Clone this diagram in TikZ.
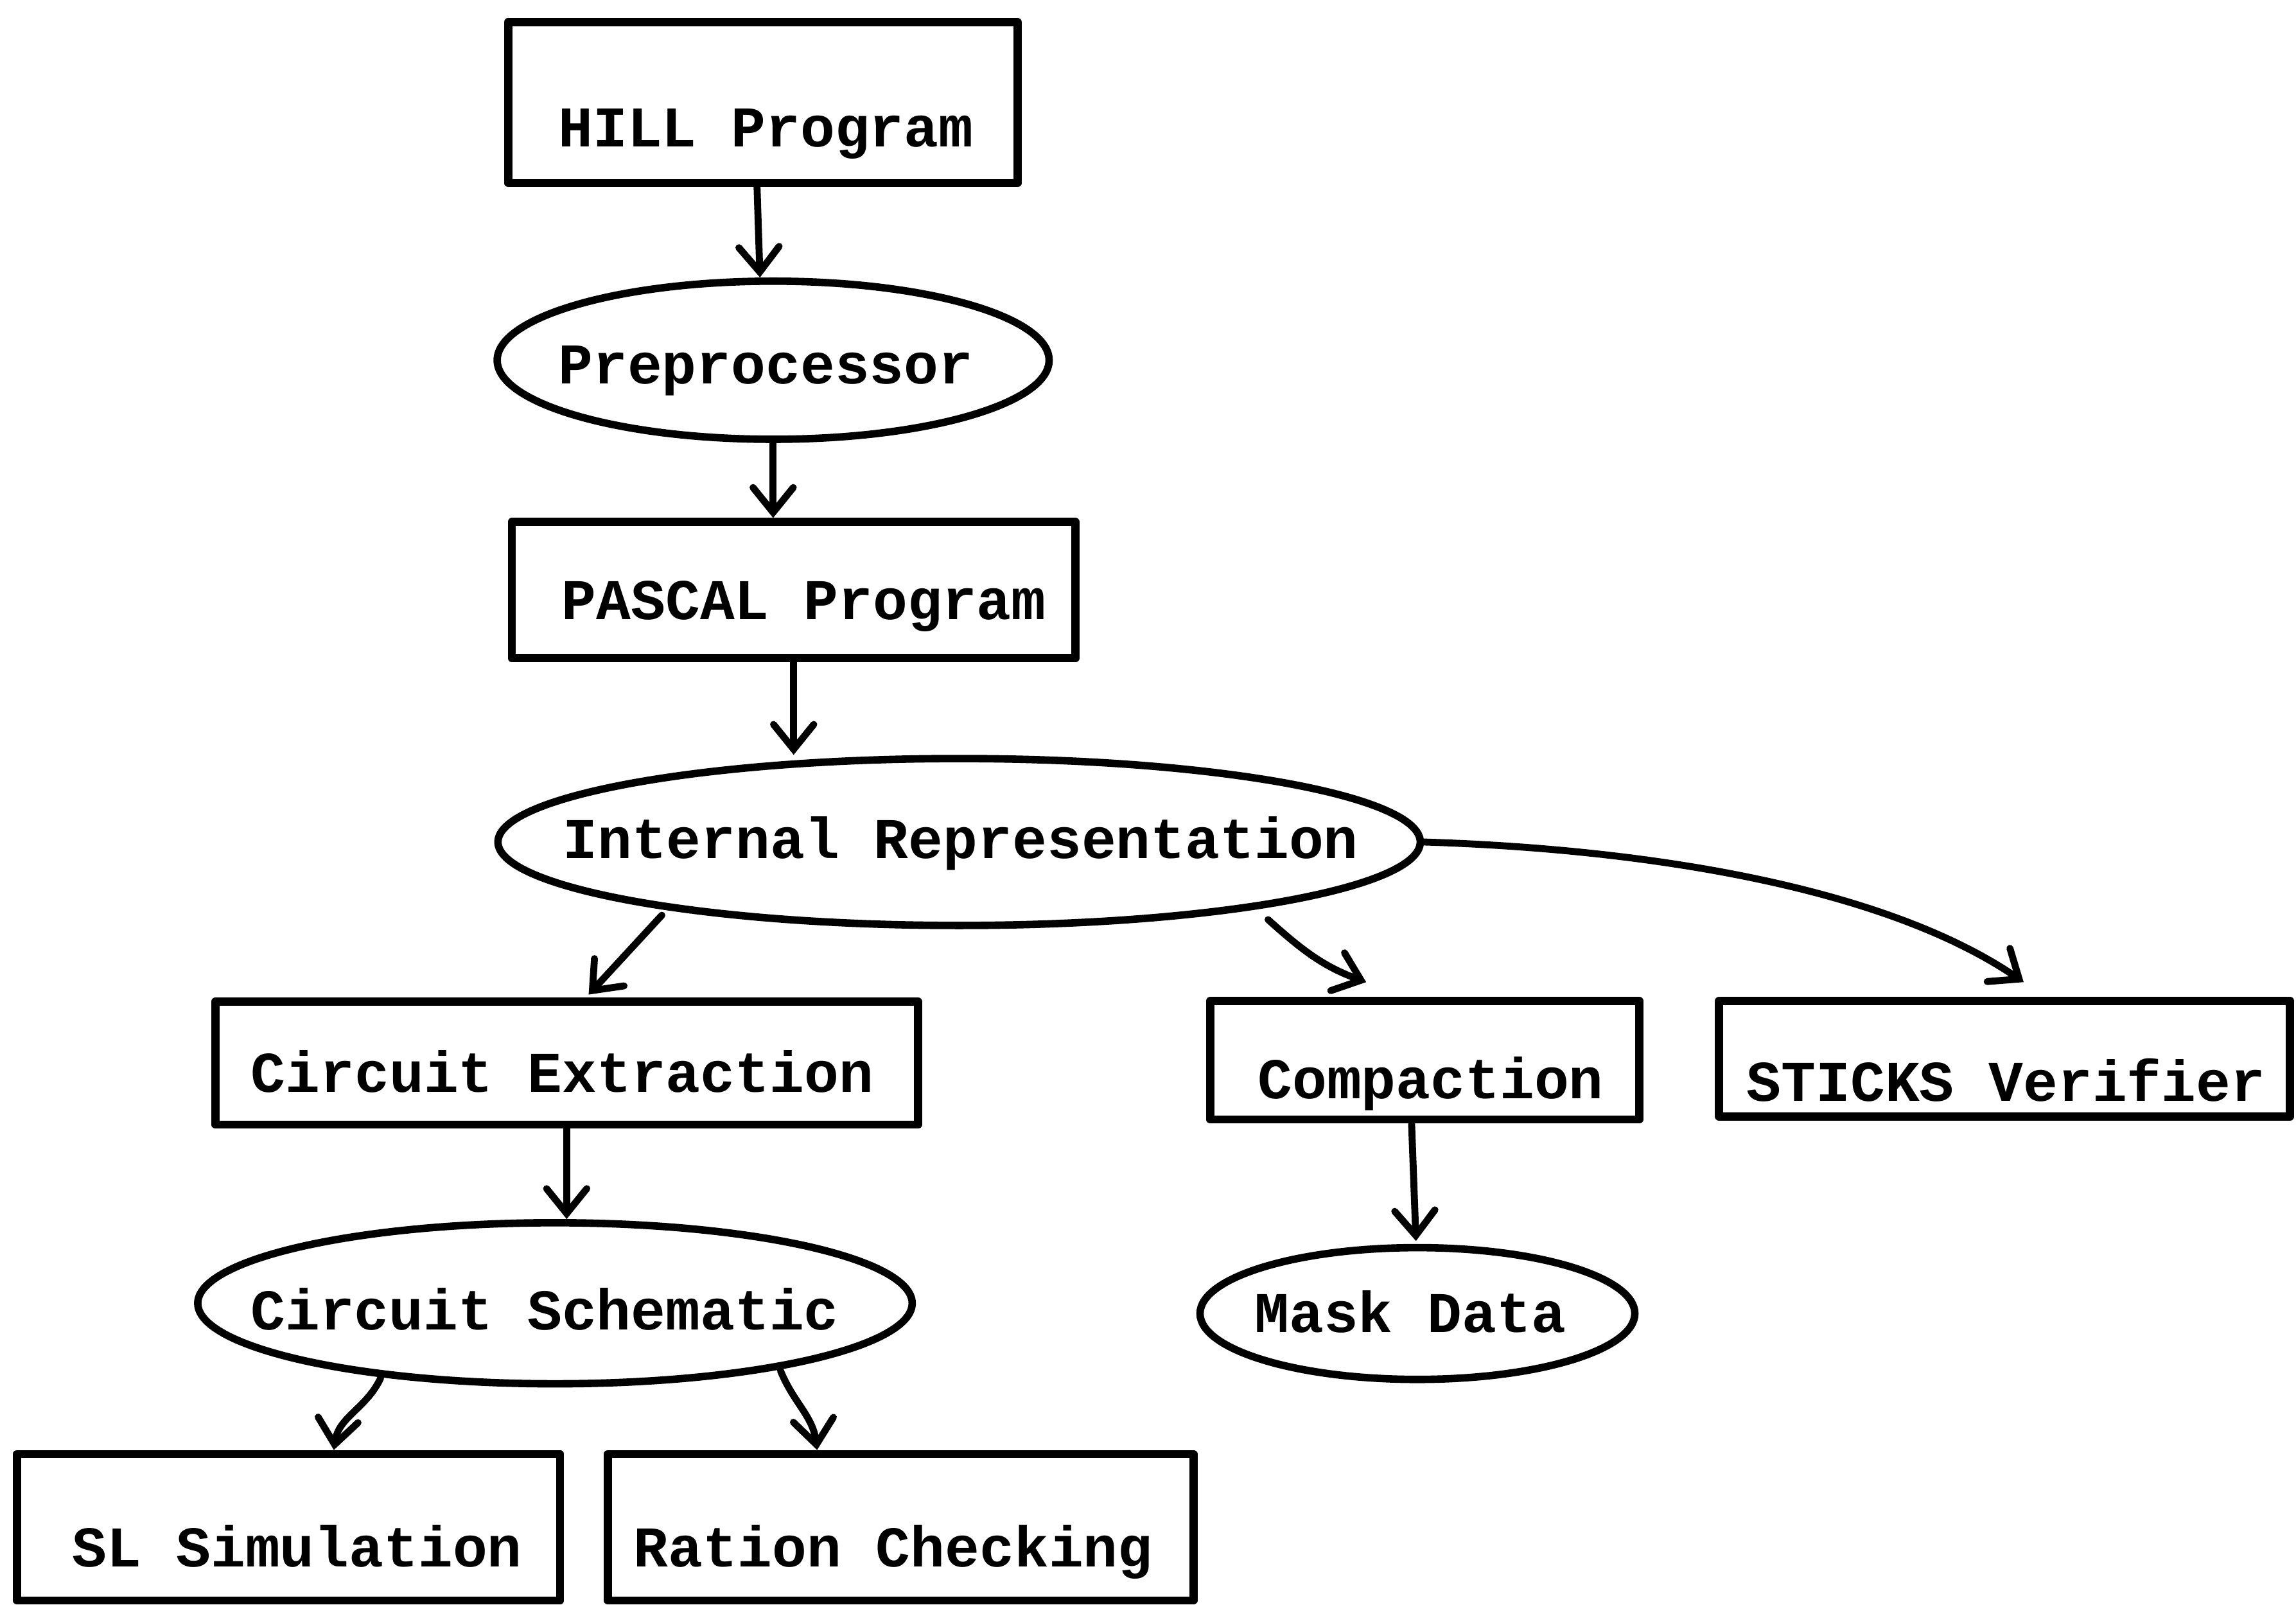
\documentclass[tikz,border=0pt]{standalone}
\usepackage{fontspec}
\setmonofont{Liberation Mono}
\usetikzlibrary{shapes.geometric,arrows.meta,calc}
\begin{document}
\begin{tikzpicture}[x=0.02cm,y=-0.02cm,
  box/.style={draw,line width=3.2pt,line join=round,rectangle,inner sep=0pt},
  oval/.style={draw,line width=2.9pt,ellipse,inner sep=0pt},
  lbl/.style={font=\ttfamily\bfseries\fontsize{22.4}{26}\selectfont,anchor=base,inner sep=0pt},
  arr/.style={line width=2.7pt,line cap=round,-{Straight Barb[length=0.34cm,width=0.55cm,line cap=round]}}]
\path[use as bounding box] (0,0) rectangle (1568,1096);

% shapes
\node[box,minimum width=6.96cm,minimum height=2.2cm] (hill) at (521,70) {};
\node[oval,minimum width=7.54cm,minimum height=2.16cm] (pre) at (528,246) {};
\node[box,minimum width=7.7cm,minimum height=1.86cm] (pascal) at (542,403) {};
\node[oval,minimum width=12.6cm,minimum height=2.28cm] (internal) at (655,575) {};
\node[box,minimum width=9.6cm,minimum height=1.68cm] (cext) at (387,726) {};
\node[box,minimum width=5.86cm,minimum height=1.62cm] (comp) at (973,724) {};
\node[box,minimum width=7.8cm,minimum height=1.58cm] (sticks) at (1369,723) {};
\node[oval,minimum width=9.76cm,minimum height=2.2cm] (schem) at (379,890) {};
\node[oval,minimum width=5.94cm,minimum height=1.8cm] (mask) at (968,897) {};
\node[box,minimum width=7.42cm,minimum height=2.0cm] (sl) at (197,1043) {};
\node[box,minimum width=8.0cm,minimum height=2.0cm] (ration) at (615,1043) {};

% labels
\node[lbl] (hillT) at (523,100) {HILL Program};
\node[lbl] (preT) at (523,262) {Preprocessor};
\node[lbl] (pascalT) at (549,423) {PASCAL Program};
\node[lbl] (internalT) at (656,586) {Internal Representation};
\node[lbl] (cextT) at (384,746) {Circuit Extraction};
\node[lbl] (compT) at (977,750) {Compaction};
\node[lbl] (sticksT) at (1370,752) {STICKS Verifier};
\node[lbl] (schemT) at (372,908) {Circuit Schematic};
\node[lbl] (maskT) at (963,910) {Mask Data};
\node[lbl] (slT) at (203,1070) {SL Simulation};
\node[lbl] (rationT) at (610,1070) {Ration Checking};

% connectors
\draw[arr] ($(hill.south)+(-4,0)$) -- ($(hill.south |- pre.north)+(-2,0)$);
\draw[arr] (pre.south) -- (pre.south |- pascal.north);
\draw[arr] (pascal.south) -- (pascal.south |- internal.north);
\draw[arr] ($(internal)+(-203,50)$) -- ($(cext.north)+(15,-2)$);
\draw[arr] ($(internal)+(211,53)$) to[out=-42,in=160] ($(comp.north)+(-40,-10)$);
\draw[arr] (internal.east) .. controls ($(internal.east)+(160,5)$) and ($(sticks.north)+(-79,-73)$) .. ($(sticks.north)+(13,-10)$);
\draw[arr] (cext.south) -- (cext.south |- schem.north);
\draw[arr] ($(comp.south)+(-9,0)$) -- ($(comp.south |- mask.north)+(-6,-2)$);
\draw[arr] ($(schem)+(-119,51)$) to[out=-115,in=82] ($(sl.north)+(31,0)$);
\draw[arr] ($(schem)+(154,46)$) to[out=-68,in=97] ($(ration.north)+(-57,0)$);
\end{tikzpicture}
\end{document}
